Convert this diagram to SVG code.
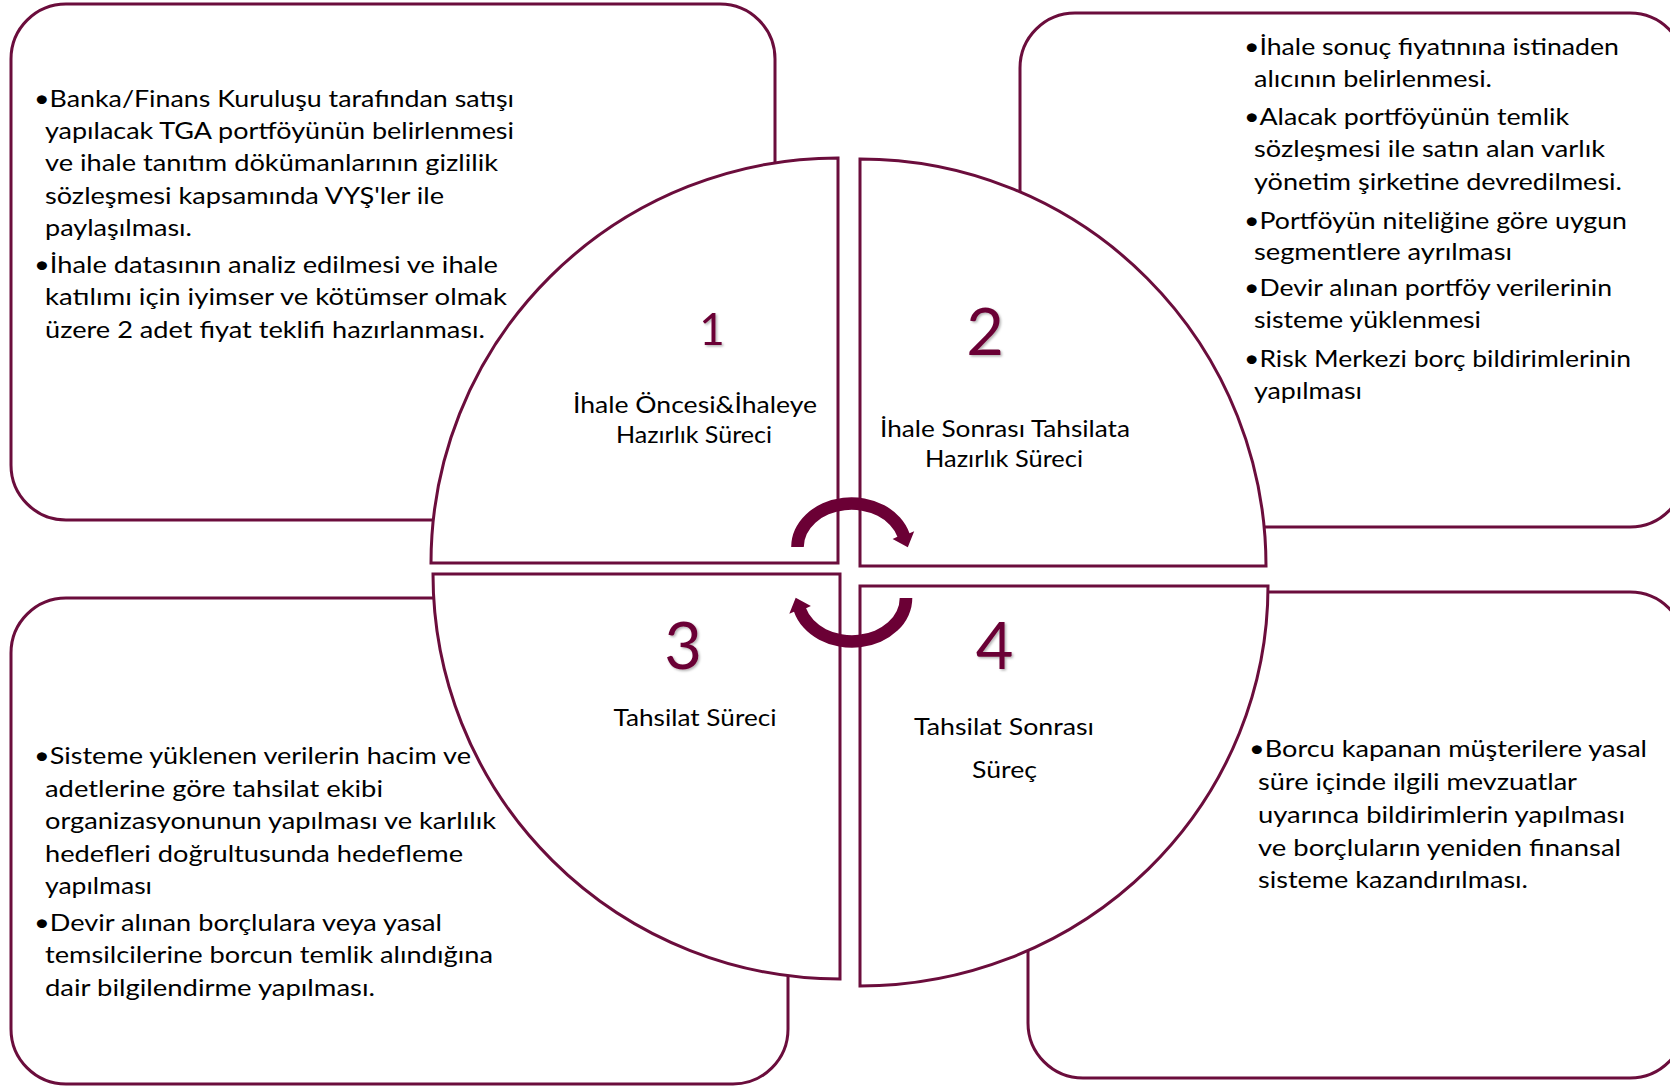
<svg xmlns="http://www.w3.org/2000/svg" width="1670" height="1086" viewBox="0 0 1670 1086">
<defs>
<style>
.box{fill:#ffffff;stroke:#6B0D3C;stroke-width:3}
.q{fill:#ffffff;stroke:#6B0D3C;stroke-width:3;stroke-linejoin:miter}
.t{font-family:Lato,'Liberation Sans',sans-serif;font-size:24px;fill:#000000}
.lbl{font-family:Lato,'Liberation Sans',sans-serif;font-size:24px;fill:#000000;text-anchor:middle}
.num{font-family:Lato,'Liberation Sans',sans-serif;fill:#6B0035;text-anchor:middle;filter:url(#sh)}
.arr{fill:#6B0035}
</style>
<filter id="sh" x="-20%" y="-20%" width="140%" height="140%">
<feDropShadow dx="1.5" dy="1.5" stdDeviation="1" flood-color="#000000" flood-opacity="0.3"/>
</filter>
<path id="arrowShape" d="M 791.2 547 A 60.3 49.6 0 0 1 909.5 533.3 L 914.2 531.2 L 907.8 547.3 L 892.6 539 L 897.4 536.8 A 47.7 37 0 0 0 803.8 547 Z"/>
</defs>
<rect width="1670" height="1086" fill="#ffffff"/>

<g id="box-top-left">
<rect class="box" x="11" y="4" width="764" height="516" rx="55" ry="55"/>
<text class="t" x="34" y="106.5" textLength="480" lengthAdjust="spacingAndGlyphs">•Banka/Finans Kuruluşu tarafından satışı</text>
<text class="t" x="45" y="138.5" textLength="469" lengthAdjust="spacingAndGlyphs">yapılacak TGA portföyünün belirlenmesi</text>
<text class="t" x="45" y="171" textLength="453" lengthAdjust="spacingAndGlyphs">ve ihale tanıtım dökümanlarının gizlilik</text>
<text class="t" x="45" y="203.5" textLength="399" lengthAdjust="spacingAndGlyphs">sözleşmesi kapsamında VYŞ'ler ile</text>
<text class="t" x="45" y="236" textLength="147" lengthAdjust="spacingAndGlyphs">paylaşılması.</text>
<text class="t" x="34" y="272.5" textLength="464" lengthAdjust="spacingAndGlyphs">•İhale datasının analiz edilmesi ve ihale</text>
<text class="t" x="45" y="305" textLength="462" lengthAdjust="spacingAndGlyphs">katılımı için iyimser ve kötümser olmak</text>
<text class="t" x="45" y="337.5" textLength="440" lengthAdjust="spacingAndGlyphs">üzere 2 adet fiyat teklifi hazırlanması.</text>
</g>

<g id="box-top-right">
<rect class="box" x="1020" y="13" width="665" height="514" rx="55" ry="55"/>
<text class="t" x="1244" y="55" textLength="375" lengthAdjust="spacingAndGlyphs">•İhale sonuç fiyatınına istinaden</text>
<text class="t" x="1254" y="86.5" textLength="238" lengthAdjust="spacingAndGlyphs">alıcının belirlenmesi.</text>
<text class="t" x="1244" y="125" textLength="325" lengthAdjust="spacingAndGlyphs">•Alacak portföyünün temlik</text>
<text class="t" x="1254" y="157" textLength="351" lengthAdjust="spacingAndGlyphs">sözleşmesi ile satın alan varlık</text>
<text class="t" x="1254" y="189.5" textLength="368" lengthAdjust="spacingAndGlyphs">yönetim şirketine devredilmesi.</text>
<text class="t" x="1244" y="228.5" textLength="383" lengthAdjust="spacingAndGlyphs">•Portföyün niteliğine göre uygun</text>
<text class="t" x="1254" y="260" textLength="258" lengthAdjust="spacingAndGlyphs">segmentlere ayrılması</text>
<text class="t" x="1244" y="295.5" textLength="368" lengthAdjust="spacingAndGlyphs">•Devir alınan portföy verilerinin</text>
<text class="t" x="1254" y="327.5" textLength="227" lengthAdjust="spacingAndGlyphs">sisteme yüklenmesi</text>
<text class="t" x="1244" y="367" textLength="387" lengthAdjust="spacingAndGlyphs">•Risk Merkezi borç bildirimlerinin</text>
<text class="t" x="1254" y="398.5" textLength="108" lengthAdjust="spacingAndGlyphs">yapılması</text>
</g>

<g id="box-bottom-left">
<rect class="box" x="11" y="598" width="777" height="486" rx="55" ry="55"/>
<text class="t" x="34" y="764" textLength="437" lengthAdjust="spacingAndGlyphs">•Sisteme yüklenen verilerin hacim ve</text>
<text class="t" x="45" y="796.5" textLength="338" lengthAdjust="spacingAndGlyphs">adetlerine göre tahsilat ekibi</text>
<text class="t" x="45" y="829" textLength="451" lengthAdjust="spacingAndGlyphs">organizasyonunun yapılması ve karlılık</text>
<text class="t" x="45" y="861.5" textLength="418" lengthAdjust="spacingAndGlyphs">hedefleri doğrultusunda hedefleme</text>
<text class="t" x="45" y="894" textLength="107" lengthAdjust="spacingAndGlyphs">yapılması</text>
<text class="t" x="34" y="930.5" textLength="408" lengthAdjust="spacingAndGlyphs">•Devir alınan borçlulara veya yasal</text>
<text class="t" x="45" y="963" textLength="448" lengthAdjust="spacingAndGlyphs">temsilcilerine borcun temlik alındığına</text>
<text class="t" x="45" y="995.5" textLength="330" lengthAdjust="spacingAndGlyphs">dair bilgilendirme yapılması.</text>
</g>

<g id="box-bottom-right">
<rect class="box" x="1028" y="592" width="657" height="486" rx="55" ry="55"/>
<text class="t" x="1249" y="757" textLength="398" lengthAdjust="spacingAndGlyphs">•Borcu kapanan müşterilere yasal</text>
<text class="t" x="1258" y="789.5" textLength="319" lengthAdjust="spacingAndGlyphs">süre içinde ilgili mevzuatlar</text>
<text class="t" x="1258" y="822.5" textLength="367" lengthAdjust="spacingAndGlyphs">uyarınca bildirimlerin yapılması</text>
<text class="t" x="1258" y="855.5" textLength="363" lengthAdjust="spacingAndGlyphs">ve borçluların yeniden finansal</text>
<text class="t" x="1258" y="888" textLength="270" lengthAdjust="spacingAndGlyphs">sisteme kazandırılması.</text>
</g>

<g id="quadrant-1">
<path class="q" d="M 838 563 L 431 563 A 407 405 0 0 1 838 158 Z"/>
<text class="num" x="712" y="345" font-size="44">1</text>
<text class="lbl" x="695" y="413" textLength="244" lengthAdjust="spacingAndGlyphs">İhale Öncesi&amp;İhaleye</text>
<text class="lbl" x="694" y="443" textLength="156" lengthAdjust="spacingAndGlyphs">Hazırlık Süreci</text>
</g>

<g id="quadrant-2">
<path class="q" d="M 860 566 L 860 159 A 406 407 0 0 1 1266 566 Z"/>
<text class="num" x="985" y="355" font-size="65">2</text>
<text class="lbl" x="1005" y="437" textLength="250" lengthAdjust="spacingAndGlyphs">İhale Sonrası Tahsilata</text>
<text class="lbl" x="1004" y="467" textLength="158" lengthAdjust="spacingAndGlyphs">Hazırlık Süreci</text>
</g>

<g id="quadrant-3">
<path class="q" d="M 840 574 L 840 979 A 407 405 0 0 1 433 574 Z"/>
<text class="num" x="683" y="669" font-size="65">3</text>
<text class="lbl" x="695" y="726" textLength="163" lengthAdjust="spacingAndGlyphs">Tahsilat Süreci</text>
</g>

<g id="quadrant-4">
<path class="q" d="M 860 586 L 1268 586 A 408 400 0 0 1 860 986 Z"/>
<text class="num" x="994.5" y="669" font-size="65">4</text>
<text class="lbl" x="1004" y="735" textLength="180" lengthAdjust="spacingAndGlyphs">Tahsilat Sonrası</text>
<text class="lbl" x="1004.5" y="778" textLength="65" lengthAdjust="spacingAndGlyphs">Süreç</text>
</g>

<g id="connectors">
<use href="#arrowShape" class="arr"/>
<use href="#arrowShape" class="arr" transform="rotate(180 851.75 572.5)"/>
</g>
</svg>
